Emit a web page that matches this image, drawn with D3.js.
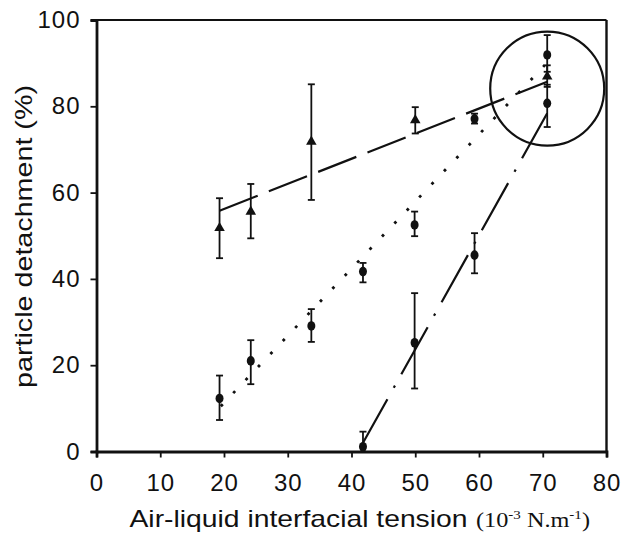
<!DOCTYPE html>
<html>
<head>
<meta charset="utf-8">
<script src="https://cdn.jsdelivr.net/npm/d3@7"></script>
<style>
  html, body { margin: 0; padding: 0; background: #fff; }
  svg { display: block; }
  text { font-family: "Liberation Sans", Arial, sans-serif; fill: #111; }
</style>
</head>
<body>
<svg id="chart" width="623" height="535"></svg>
<script>
// Axis ticks
const xTicks = [0, 10, 20, 30, 40, 50, 60, 70, 80];
const yTicks = [0, 20, 40, 60, 80, 100];

// Triangles (long-dash fit)
const triX  = [19.3, 24.2, 33.7, 50.0, 70.7];
const triY  = [51.8, 55.6, 71.8, 76.8, 86.9];
const triLo = [44.8, 49.4, 58.3, 73.7, 84.5];
const triHi = [58.7, 62.0, 85.1, 79.8, 89.5];
const triFit = [[19.3, 55.8], [70.7, 85.7]];

// Circles (dotted fit)
const dotX  = [19.3, 24.2, 33.7, 41.8, 49.9, 59.3, 70.7];
const dotY  = [12.3, 21.0, 29.1, 41.7, 52.5, 77.1, 91.9];
const dotLo = [7.3, 15.6, 25.4, 39.2, 49.9, 76.0, 88.0];
const dotHi = [17.6, 25.8, 33.0, 43.7, 55.6, 78.3, 96.5];
const dotFit = [[19.5, 10.5], [70.3, 89.5]];

// Circles (dash-dot fit)
const ddX  = [41.8, 49.9, 59.3, 70.7];
const ddY  = [1.1, 25.2, 45.5, 80.7];
const ddLo = [0, 14.6, 41.3, 75.2];
const ddHi = [4.6, 36.7, 50.6, 85.0];
const ddFit = [[41.5, 1.2], [70.7, 78.4]];

// Highlight ring around the high-tension points
const ringCenter = [70.7, 84.1];

const svg = d3.select("#chart");
const x = d3.scaleLinear().domain([0, 80]).range([96.5, 606.5]);
const y = d3.scaleLinear().domain([0, 100]).range([451.5, 20]);

// Frame (top and right)
svg.append("line").attr("x1", x(0)).attr("x2", x(80)).attr("y1", y(100)).attr("y2", y(100))
  .attr("stroke", "#111").attr("stroke-width", 2.2);
svg.append("line").attr("x1", x(80)).attr("x2", x(80)).attr("y1", y(100)).attr("y2", y(0))
  .attr("stroke", "#111").attr("stroke-width", 2.4);

// Axes
const xAxis = svg.append("g").attr("transform", `translate(0,${y(0)})`)
  .call(d3.axisBottom(x).tickValues(xTicks).tickSize(6).tickPadding(16).tickFormat(d3.format("d")));
const yAxis = svg.append("g").attr("transform", `translate(${x(0)},0)`)
  .call(d3.axisLeft(y).tickValues(yTicks).tickSize(6).tickPadding(10).tickFormat(d3.format("d")));
[xAxis, yAxis].forEach(g => {
  g.select(".domain").attr("stroke", "#111").attr("stroke-width", 2.8);
  g.selectAll(".tick line").attr("stroke", "#111").attr("stroke-width", 1.8);
  g.selectAll(".tick text").attr("font-size", 24).attr("fill", "#111")
    .attr("letter-spacing", 1)
    .attr("font-family", "Liberation Sans, Arial, sans-serif");
});

// Axis titles
svg.append("text")
  .attr("x", 129.5).attr("y", 527)
  .attr("font-size", 24)
  .attr("textLength", 338).attr("lengthAdjust", "spacingAndGlyphs")
  .text("Air-liquid interfacial tension");
const unit = svg.append("text")
  .attr("x", 476).attr("y", 527)
  .attr("font-size", 21)
  .attr("textLength", 114).attr("lengthAdjust", "spacingAndGlyphs")
  .style("font-family", "'Liberation Serif', 'Times New Roman', serif");
unit.append("tspan").text("(10");
unit.append("tspan").attr("font-size", 13).attr("dy", -8).text("-3");
unit.append("tspan").attr("dy", 8).text(" N.m");
unit.append("tspan").attr("font-size", 13).attr("dy", -8).text("-1");
unit.append("tspan").attr("dy", 8).text(")");

svg.append("text")
  .attr("transform", "translate(32,236.5) rotate(-90)")
  .attr("text-anchor", "middle")
  .attr("font-size", 24)
  .attr("textLength", 303).attr("lengthAdjust", "spacingAndGlyphs")
  .text("particle detachment (%)");

// Fit lines
const line = d3.line().x(d => x(d[0])).y(d => y(d[1]));
svg.append("path").attr("d", line(triFit)).attr("fill", "none")
  .attr("stroke", "#111").attr("stroke-width", 2.2).attr("stroke-dasharray", "41,12");
svg.append("path").attr("d", line(dotFit)).attr("fill", "none")
  .attr("stroke", "#111").attr("stroke-width", 2.8).attr("stroke-dasharray", "2.8,15.2");
svg.append("path").attr("d", line(ddFit)).attr("fill", "none")
  .attr("stroke", "#111").attr("stroke-width", 2.2).attr("stroke-dasharray", "54,13,2.5,13");

// Error bars
function errorBars(xs, lo, hi) {
  const g = svg.append("g").attr("stroke", "#111").attr("stroke-width", 1.8);
  xs.forEach((xv, i) => {
    g.append("line").attr("x1", x(xv)).attr("x2", x(xv)).attr("y1", y(lo[i])).attr("y2", y(hi[i]));
    g.append("line").attr("x1", x(xv) - 3.5).attr("x2", x(xv) + 3.5).attr("y1", y(hi[i])).attr("y2", y(hi[i]));
    if (lo[i] > 0)
      g.append("line").attr("x1", x(xv) - 3.5).attr("x2", x(xv) + 3.5).attr("y1", y(lo[i])).attr("y2", y(lo[i]));
  });
}
errorBars(triX, triLo, triHi);
errorBars(dotX, dotLo, dotHi);
errorBars(ddX, ddLo, ddHi);

// Markers
const tri = d3.symbol().type(d3.symbolTriangle).size(48);
svg.append("g").selectAll("path").data(triX).join("path")
  .attr("d", tri)
  .attr("transform", (d, i) => `translate(${x(d)},${y(triY[i])})`)
  .attr("fill", "#111");
svg.append("g").selectAll("ellipse").data(dotX).join("ellipse")
  .attr("cx", d => x(d)).attr("cy", (d, i) => y(dotY[i]))
  .attr("rx", 4).attr("ry", 4.8).attr("fill", "#111");
svg.append("g").selectAll("ellipse").data(ddX).join("ellipse")
  .attr("cx", d => x(d)).attr("cy", (d, i) => y(ddY[i]))
  .attr("rx", 4).attr("ry", 4.8).attr("fill", "#111");

// Highlight ring
svg.append("circle")
  .attr("cx", x(ringCenter[0])).attr("cy", y(ringCenter[1])).attr("r", 57)
  .attr("fill", "none").attr("stroke", "#111").attr("stroke-width", 2.2);
</script>
</body>
</html>
